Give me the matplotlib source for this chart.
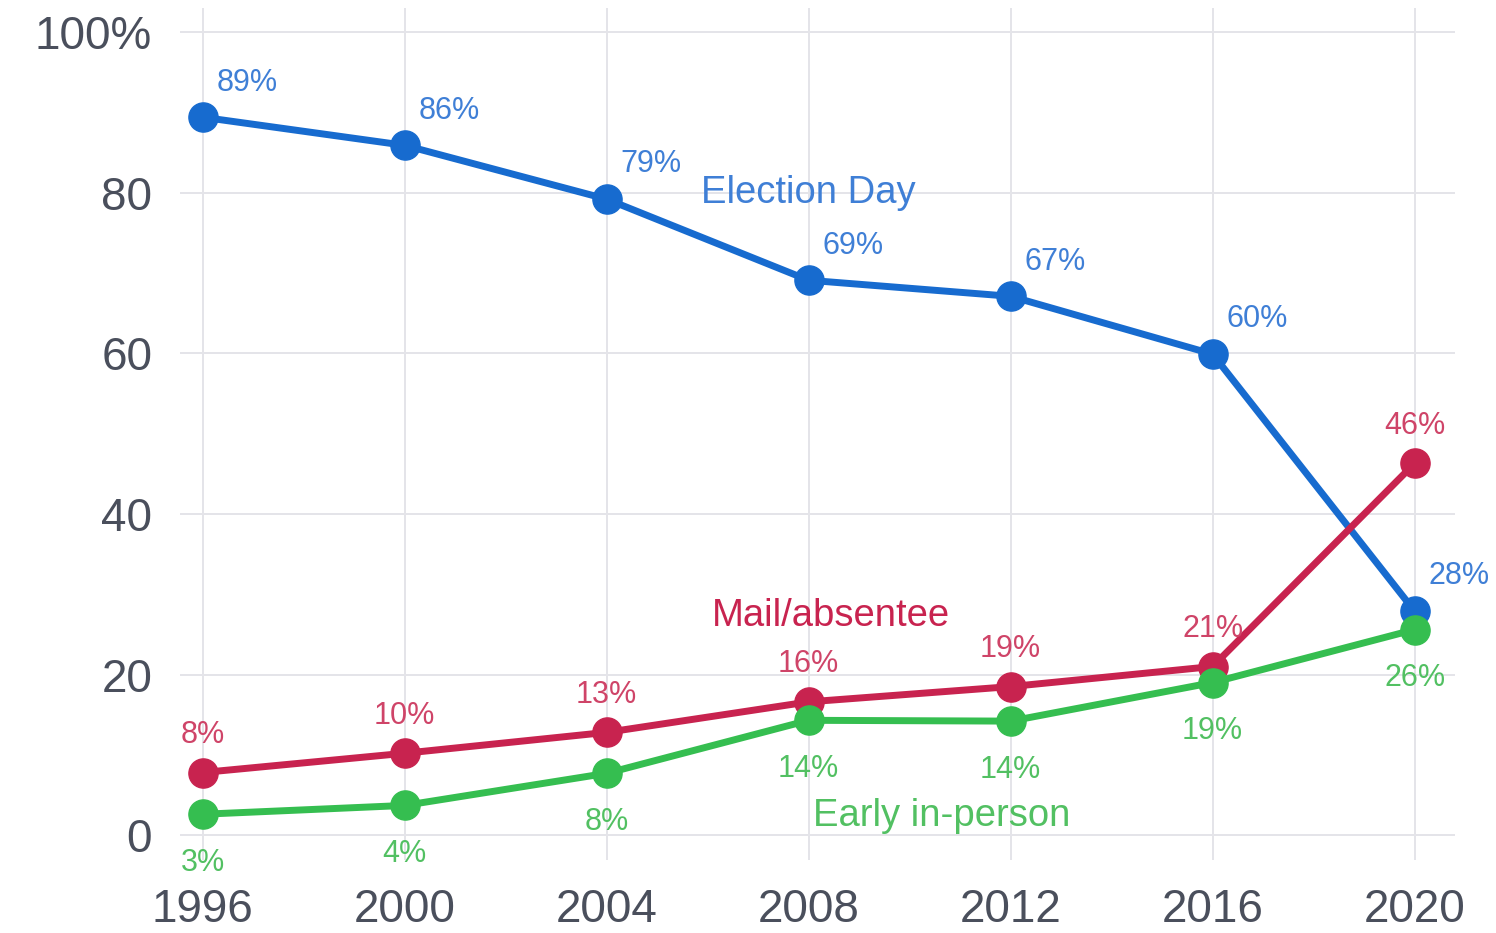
import matplotlib
matplotlib.use("Agg")
import matplotlib.pyplot as plt

# --- Data (share of voters by voting method, %) ---
years = [1996, 2000, 2004, 2008, 2012, 2016, 2020]
election_day = [89.4, 85.9, 79.2, 69.1, 67.1, 59.9, 27.9]
mail_absentee = [7.8, 10.2, 12.8, 16.6, 18.5, 21.0, 46.3]
early_in_person = [2.6, 3.7, 7.7, 14.3, 14.2, 19.0, 25.6]

election_labels = ["89%", "86%", "79%", "69%", "67%", "60%", "28%"]
mail_labels = ["8%", "10%", "13%", "16%", "19%", "21%", "46%"]
early_labels = ["3%", "4%", "8%", "14%", "14%", "19%", "26%"]

y_ticks = [0, 20, 40, 60, 80, 100]
y_tick_labels = ["0", "20", "40", "60", "80", "100%"]

# --- Style ---
plt.rcParams['font.family'] = ['Liberation Sans', 'DejaVu Sans']
BLUE, BLUE_TXT = "#176bcf", "#3f7fd6"
RED, RED_TXT = "#c8234f", "#cf4468"
GREEN, GREEN_TXT = "#35be50", "#52c062"
TICK_COLOR = "#4a4f5c"

fig = plt.figure(figsize=(14.96, 9.33), dpi=100)
ax = fig.add_axes([0.1203, 0.0782, 0.8523, 0.9132])

series = [
    (election_day, election_labels, BLUE, BLUE_TXT, (32, 25), "center"),
    (mail_absentee, mail_labels, RED, RED_TXT, (0, 27), "center"),
    (early_in_person, early_labels, GREEN, GREEN_TXT, (0, -35), "center"),
]

for vals, labels, col, txt_col, offset, ha in series:
    ax.plot(years, vals, color=col, lw=5, marker="o", markersize=21,
            solid_capstyle="round", zorder=3)
    for x, y, lab in zip(years, vals, labels):
        ax.annotate(lab, (x, y), xytext=offset, textcoords="offset points",
                    ha=ha, va="center", fontsize=22, color=txt_col, zorder=4)

# series names
ax.text(2008.0, 80.0, "Election Day", color=BLUE_TXT, fontsize=27.5,
        ha="center", va="center")
ax.text(2008.45, 27.3, "Mail/absentee", color=RED, fontsize=27.5,
        ha="center", va="center")
ax.text(2010.63, 2.4, "Early in-person", color=GREEN_TXT, fontsize=27.5,
        ha="center", va="center")

ax.set_xlim(1995.55, 2020.8)
ax.set_ylim(-3.1, 103)
ax.set_xticks(years)
ax.set_xticklabels([str(y) for y in years])
ax.set_yticks(y_ticks)
ax.set_yticklabels(y_tick_labels)
ax.tick_params(axis="both", length=0, labelsize=33, labelcolor=TICK_COLOR)
ax.tick_params(axis="y", pad=20)
ax.tick_params(axis="x", pad=20)

for s in ax.spines.values():
    s.set_visible(False)

ax.grid(True, color="#e4e4e9", lw=1.4)
ax.set_axisbelow(True)

fig.savefig("out.png", dpi=100)
